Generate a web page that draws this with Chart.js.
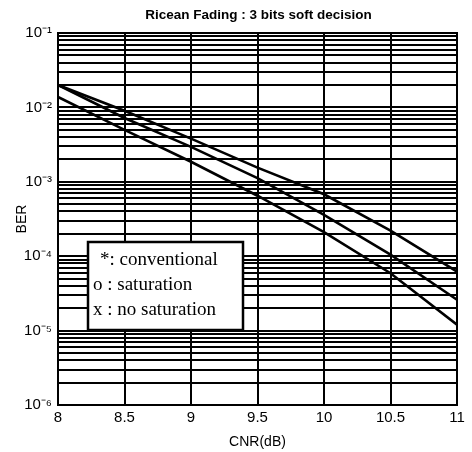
<!DOCTYPE html>
<html>
<head>
<meta charset="utf-8">
<script src="https://cdn.jsdelivr.net/npm/chart.js@4/dist/chart.umd.min.js"></script>
<style>
  html, body { margin: 0; padding: 0; background: #fff; }
  #wrap { width: 472px; height: 452px; }
</style>
</head>
<body>
<div id="wrap"><canvas id="grafikBER" width="472" height="452"></canvas></div>
<script>
// Data (CNR dalam dB, BER skala log)
const cnr = [8, 8.5, 9, 9.5, 10, 10.5, 11];
const berConventional = [2.0e-2, 9.0e-3, 3.8e-3, 1.55e-3, 6.8e-4, 2.2e-4, 6.2e-5];
const berSaturation = [2.0e-2, 7.2e-3, 2.95e-3, 1.12e-3, 3.6e-4, 1.05e-4, 2.6e-5];
const berNoSaturation = [1.38e-2, 5.0e-3, 1.86e-3, 6.5e-4, 2.1e-4, 5.9e-5, 1.2e-5];

const xTickLabels = ["8", "8.5", "9", "9.5", "10", "10.5", "11"];
const yDecades = [1e-6, 1e-5, 1e-4, 1e-3, 1e-2, 1e-1];
const yTickLabels = ["10⁻⁶", "10⁻⁵", "10⁻⁴", "10⁻³", "10⁻²", "10⁻¹"];
const yMinorSteps = [2, 3, 4, 5, 6, 7, 8, 9];

const legendLines = ["*: conventional", "o : saturation", "x : no saturation"];
const judul = "Ricean Fading : 3 bits soft decision";

function keTitik(ys) {
  return cnr.map((x, i) => ({ x, y: ys[i] }));
}

// Plugin untuk judul, bingkai plot dan kotak keterangan
const hiasan = {
  id: "hiasan",
  afterDraw(chart) {
    const { ctx, chartArea: a } = chart;
    ctx.save();
    ctx.fillStyle = "#000";
    ctx.font = "bold 13.5px 'Liberation Sans', Arial, sans-serif";
    ctx.textAlign = "center";
    ctx.textBaseline = "middle";
    ctx.fillText(judul, (a.left + a.right) / 2 + 1, 15);

    ctx.strokeStyle = "#000";
    ctx.lineWidth = 2;
    ctx.strokeRect(a.left, a.top, a.right - a.left, a.bottom - a.top);

    // kotak keterangan
    const bx = a.left + 30, by = a.top + 209, bw = 155, bh = 88;
    ctx.fillStyle = "#fff";
    ctx.fillRect(bx, by, bw, bh);
    ctx.lineWidth = 2.5;
    ctx.strokeRect(bx, by, bw, bh);
    ctx.fillStyle = "#000";
    ctx.font = "19px 'Liberation Serif', 'Times New Roman', serif";
    ctx.textAlign = "left";
    ctx.fillText(legendLines[0], bx + 12, by + 18);
    ctx.fillText(legendLines[1], bx + 5, by + 43);
    ctx.fillText(legendLines[2], bx + 5, by + 68);
    ctx.restore();
  }
};

const ctx = document.getElementById("grafikBER").getContext("2d");
new Chart(ctx, {
  type: "line",
  data: {
    datasets: [
      { label: "conventional", data: keTitik(berConventional) },
      { label: "saturation", data: keTitik(berSaturation) },
      { label: "no saturation", data: keTitik(berNoSaturation) }
    ].map(d => Object.assign(d, {
      borderColor: "#000",
      borderWidth: 2.6,
      pointRadius: 0,
      fill: false,
      tension: 0
    }))
  },
  options: {
    responsive: false,
    animation: false,
    layout: { padding: { top: 33, right: 15, left: 0, bottom: 0 } },
    plugins: {
      legend: { display: false },
      title: { display: false },
      tooltip: { enabled: false }
    },
    scales: {
      x: {
        type: "linear",
        min: 8,
        max: 11,
        ticks: {
          stepSize: 0.5,
          color: "#000",
          padding: 4,
          font: { size: 15, family: "'Liberation Sans', Arial, sans-serif" },
          callback: (v) => {
            const i = cnr.indexOf(v);
            return i >= 0 ? xTickLabels[i] : "";
          }
        },
        grid: { color: "#000", lineWidth: 2, drawTicks: false },
        border: { display: false },
        title: {
          display: true,
          text: "CNR(dB)",
          color: "#000",
          font: { size: 14, family: "'Liberation Sans', Arial, sans-serif" },
          padding: { top: 0, bottom: 1 }
        },
        afterFit: (scale) => { scale.height = 47; }
      },
      y: {
        type: "logarithmic",
        min: 1e-6,
        max: 1e-1,
        afterBuildTicks: (scale) => {
          const t = [];
          yDecades.forEach((d, i) => {
            t.push({ value: d });
            if (i < yDecades.length - 1) yMinorSteps.forEach(m => t.push({ value: d * m }));
          });
          scale.ticks = t;
        },
        ticks: {
          autoSkip: false,
          color: "#000",
          padding: 6,
          font: { size: 15, family: "'Liberation Sans', Arial, sans-serif" },
          callback: (v) => {
            const i = yDecades.findIndex(d => Math.abs(d - v) / d < 1e-6);
            return i >= 0 ? yTickLabels[i] : "";
          }
        },
        grid: { color: "#000", lineWidth: 2, drawTicks: false },
        border: { display: false },
        title: {
          display: true,
          text: "BER",
          color: "#000",
          font: { size: 14, family: "'Liberation Sans', Arial, sans-serif" },
          padding: { top: 14, bottom: 0 }
        },
        afterFit: (scale) => { scale.width = 58; }
      }
    }
  },
  plugins: [hiasan]
});
</script>
</body>
</html>
